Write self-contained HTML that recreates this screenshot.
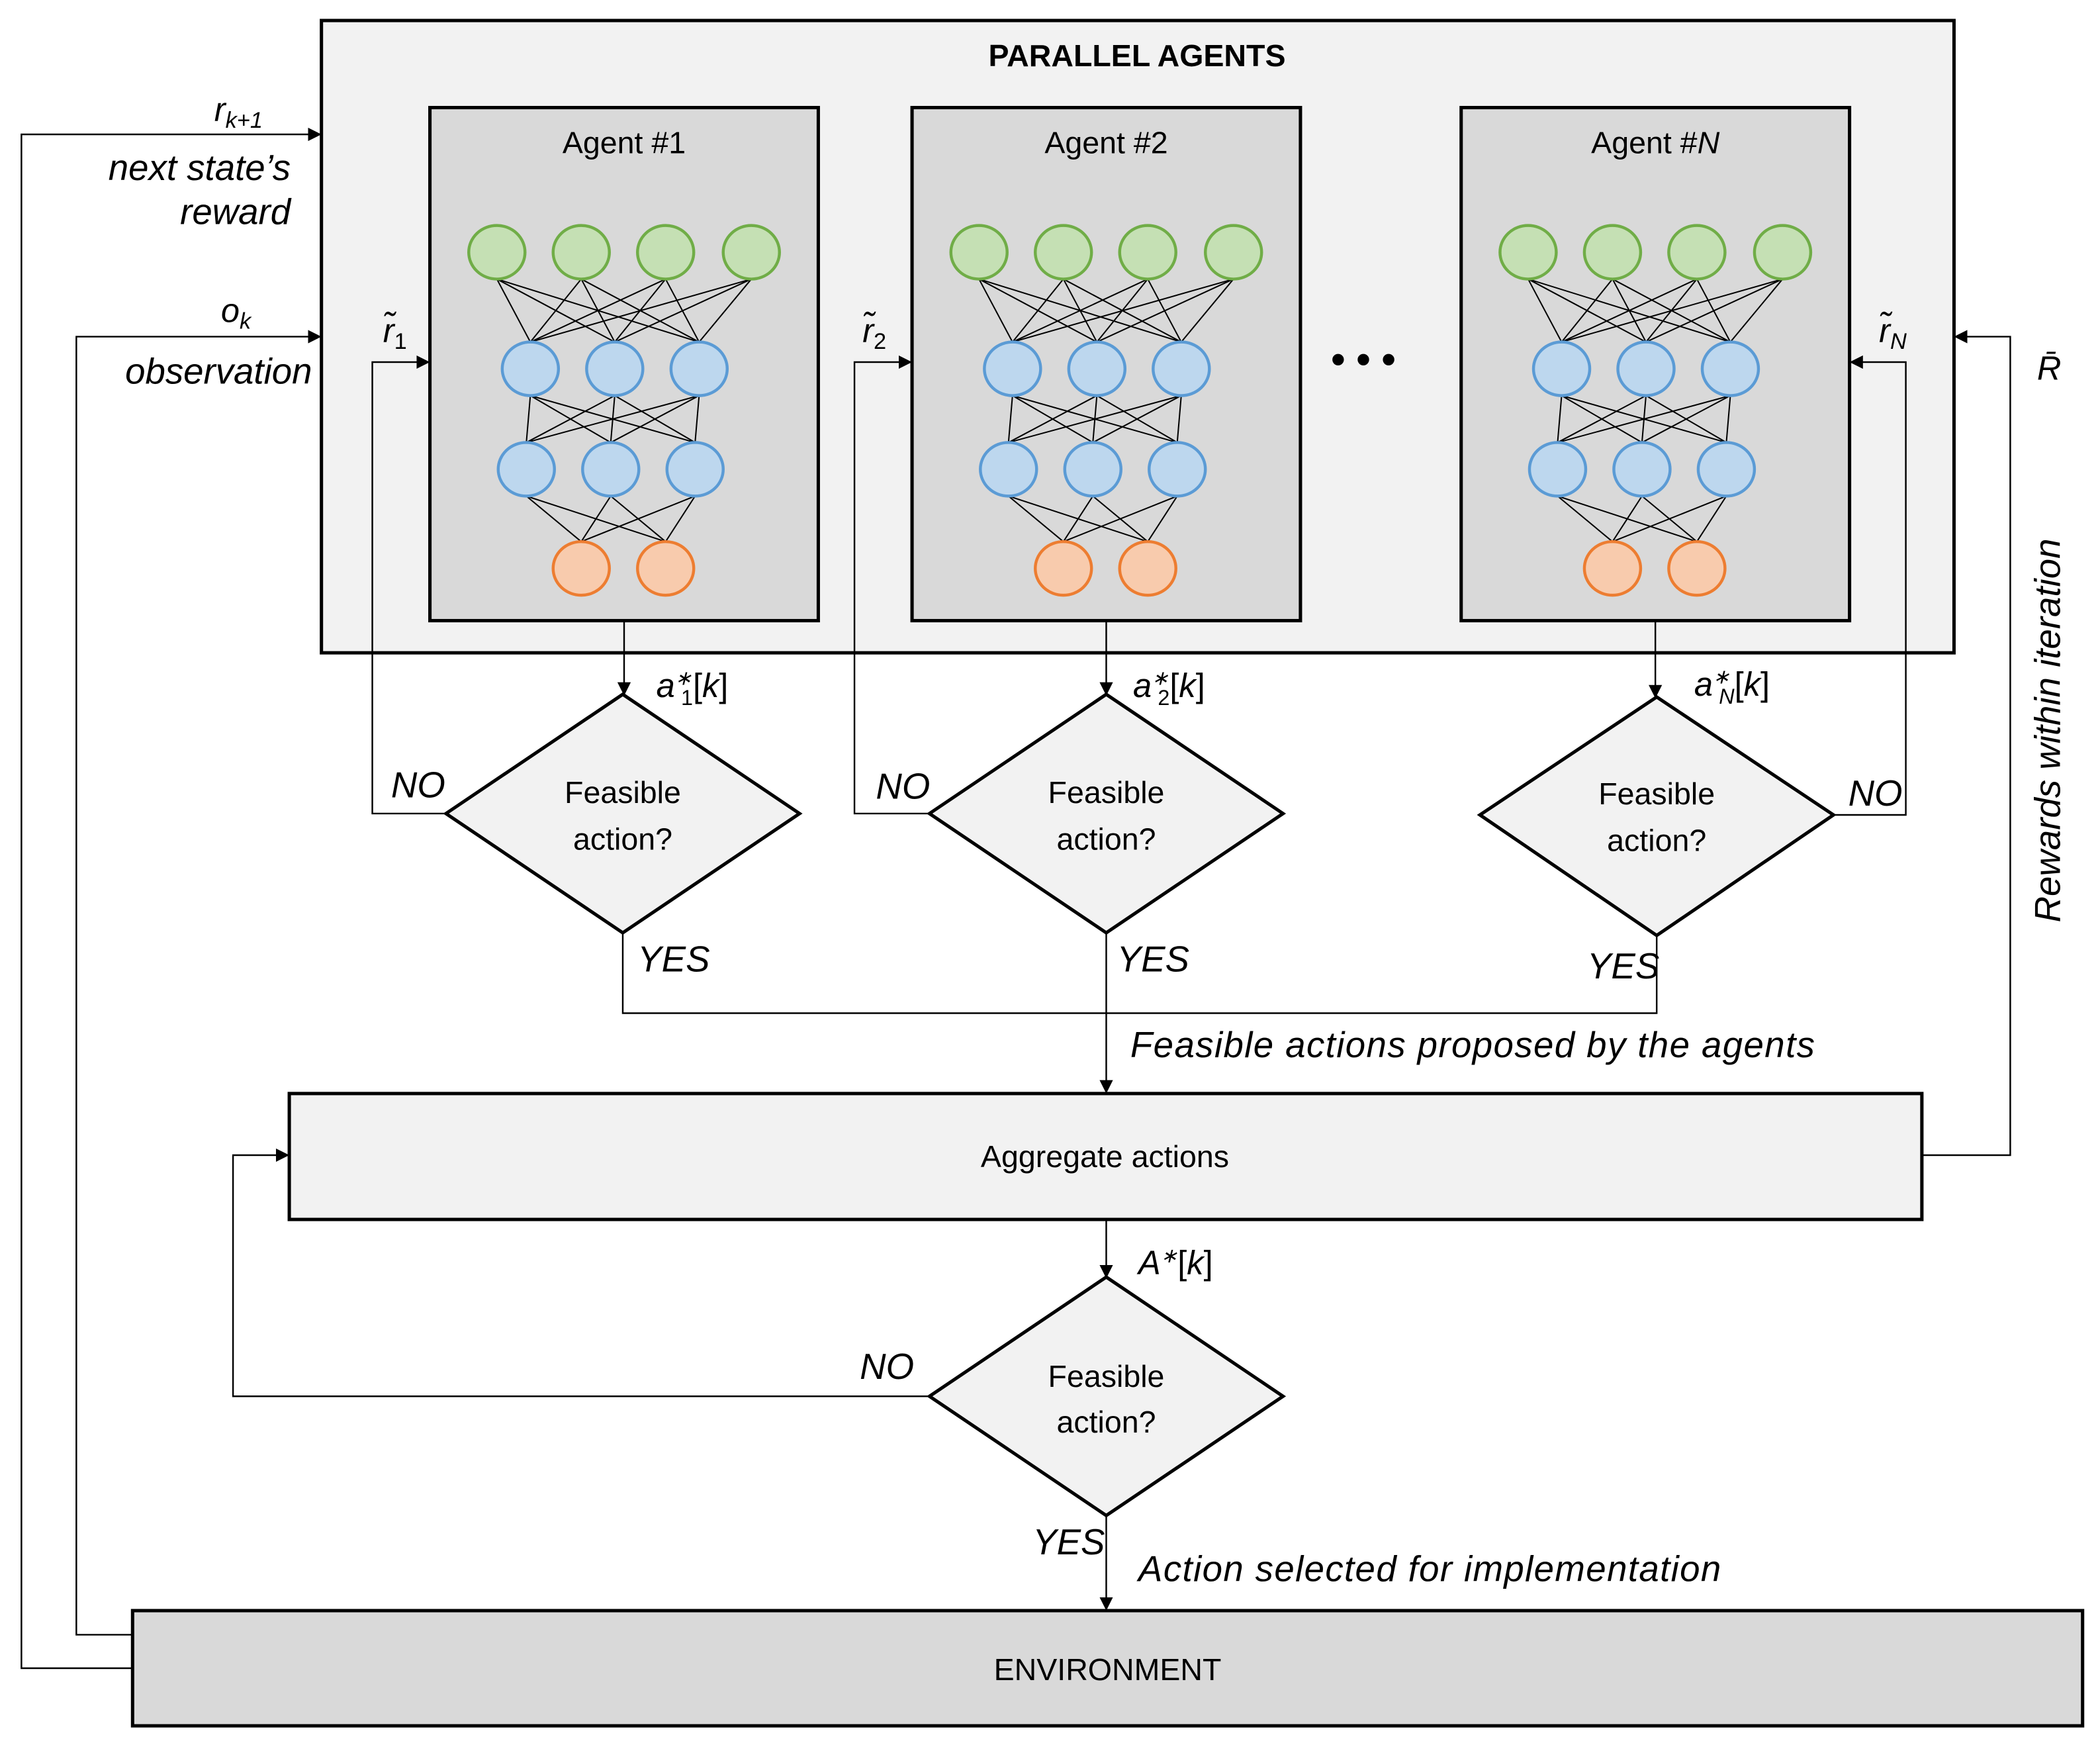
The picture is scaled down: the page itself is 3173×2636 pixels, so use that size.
<!DOCTYPE html>
<html><head><meta charset="utf-8"><style>
html,body{margin:0;padding:0;background:#fff;}
svg{display:block;}
text{font-family:"Liberation Sans",sans-serif;}
.it{font-style:italic;font-size:27px;}
.n{font-size:23px;}
</style></head><body>
<svg width="3173" height="2636" viewBox="0 0 1568 1302" xmlns="http://www.w3.org/2000/svg">
<defs>
<marker id="ar" markerWidth="10" markerHeight="10" refX="9" refY="5" orient="auto" markerUnits="userSpaceOnUse">
<path d="M0,0 L10,5 L0,10 z" fill="#000"/></marker>
<g id="net" stroke="#000" stroke-width="1">
<path d="M50,208L75,255M50,208L138,255M50,208L201,255M113,208L75,255M113,208L138,255M113,208L201,255M176,208L75,255M176,208L138,255M176,208L201,255M240,208L75,255M240,208L138,255M240,208L201,255
M75,295L72,330M75,295L135,330M75,295L198,330M138,295L72,330M138,295L135,330M138,295L198,330M201,295L72,330M201,295L135,330M201,295L198,330
M72,370L113,404M72,370L176,404M135,370L113,404M135,370L176,404M198,370L113,404M198,370L176,404" fill="none"/>
<g fill="#c5e0b4" stroke="#70ad47" stroke-width="2.2">
<ellipse cx="50" cy="188" rx="21" ry="20"/><ellipse cx="113" cy="188" rx="21" ry="20"/><ellipse cx="176" cy="188" rx="21" ry="20"/><ellipse cx="240" cy="188" rx="21" ry="20"/></g>
<g fill="#bdd7ee" stroke="#5b9bd5" stroke-width="2.2">
<ellipse cx="75" cy="275" rx="21" ry="20"/><ellipse cx="138" cy="275" rx="21" ry="20"/><ellipse cx="201" cy="275" rx="21" ry="20"/>
<ellipse cx="72" cy="350" rx="21" ry="20"/><ellipse cx="135" cy="350" rx="21" ry="20"/><ellipse cx="198" cy="350" rx="21" ry="20"/></g>
<g fill="#f8cbad" stroke="#ed7d31" stroke-width="2.2">
<ellipse cx="113" cy="424" rx="21" ry="20"/><ellipse cx="176" cy="424" rx="21" ry="20"/></g>
</g>
</defs>

<rect x="240" y="15" width="1219" height="472" fill="#f2f2f2" stroke="#000" stroke-width="2.5"/>
<text x="849" y="49" text-anchor="middle" font-weight="bold" font-size="23">PARALLEL AGENTS</text>

<g fill="#d9d9d9" stroke="#000" stroke-width="2.5">
<rect x="321" y="80" width="290" height="383"/>
<rect x="681" y="80" width="290" height="383"/>
<rect x="1091" y="80" width="290" height="383"/>
</g>
<text class="n" x="466" y="114" text-anchor="middle">Agent #1</text>
<text class="n" x="826" y="114" text-anchor="middle">Agent #2</text>
<text class="n" x="1236" y="114" text-anchor="middle">Agent #<tspan font-style="italic">N</tspan></text>
<use href="#net" x="321"/>
<use href="#net" x="681"/>
<use href="#net" x="1091"/>
<text x="1018" y="278" text-anchor="middle" font-size="30" font-weight="bold">• • •</text>

<g stroke="#000" stroke-width="1.2" fill="none">
<path d="M466,463V518" marker-end="url(#ar)"/>
<path d="M826,463V518" marker-end="url(#ar)"/>
<path d="M1236,463V520" marker-end="url(#ar)"/>
<path d="M333,607H278V270H320" marker-end="url(#ar)"/>
<path d="M694,607H638V270H680" marker-end="url(#ar)"/>
<path d="M1369,608H1423V270H1382" marker-end="url(#ar)"/>
<path d="M465,696V756H1237V698"/>
<path d="M826,696V815" marker-end="url(#ar)"/>
<path d="M1435,862H1501V251H1460" marker-end="url(#ar)"/>
<path d="M826,910V953" marker-end="url(#ar)"/>
<path d="M694,1042H174V862H215" marker-end="url(#ar)"/>
<path d="M826,1131V1201" marker-end="url(#ar)"/>
<path d="M99,1220H57V251H239" marker-end="url(#ar)"/>
<path d="M99,1245H16V100H239" marker-end="url(#ar)"/>
</g>

<g fill="#f2f2f2" stroke="#000" stroke-width="2.5">
<path d="M465,518L597,607L465,696L333,607z"/>
<path d="M826,518L958,607L826,696L694,607z"/>
<path d="M1237,520L1369,608L1237,698L1105,608z"/>
<path d="M826,953L958,1042L826,1131L694,1042z"/>
</g>
<g class="n" text-anchor="middle">
<text x="465" y="599">Feasible</text><text x="465" y="634">action?</text>
<text x="826" y="599">Feasible</text><text x="826" y="634">action?</text>
<text x="1237" y="600">Feasible</text><text x="1237" y="635">action?</text>
<text x="826" y="1035">Feasible</text><text x="826" y="1069">action?</text>
</g>

<rect x="216" y="816" width="1219" height="94" fill="#f2f2f2" stroke="#000" stroke-width="2.5"/>
<text class="n" x="825" y="871" text-anchor="middle">Aggregate actions</text>
<rect x="99" y="1202" width="1456" height="86" fill="#d9d9d9" stroke="#000" stroke-width="2.5"/>
<text class="n" x="827" y="1254" text-anchor="middle">ENVIRONMENT</text>

<g class="it" font-size="24">
<text x="292" y="595">NO</text>
<text x="654" y="596">NO</text>
<text x="1380" y="601">NO</text>
<text x="642" y="1029">NO</text>
<text x="476" y="725">YES</text>
<text x="834" y="725">YES</text>
<text x="1185" y="730">YES</text>
<text x="771" y="1160">YES</text>
</g>
<text class="it" x="844" y="789" textLength="511">Feasible actions proposed by the agents</text>
<text class="it" x="850" y="1180" textLength="435">Action selected for implementation</text>
<text class="it" x="217" y="134" text-anchor="end">next state’s</text>
<text class="it" x="217" y="167" text-anchor="end">reward</text>
<text class="it" x="233" y="286" text-anchor="end">observation</text>
<text class="it" transform="translate(1538,545) rotate(-90)" text-anchor="middle">Rewards within iteration</text>

<g style="font-family:'Liberation Serif',serif;font-style:italic;font-size:25px">
<text x="160" y="90">r<tspan font-size="17" dy="5">k+1</tspan></text>
<text x="165" y="240">o<tspan font-size="17" dy="5">k</tspan></text>
<text x="286" y="255">r̃<tspan font-size="17" dy="5" font-style="normal">1</tspan></text>
<text x="644" y="255">r̃<tspan font-size="17" dy="5" font-style="normal">2</tspan></text>
<text x="1403" y="255">r̃<tspan font-size="17" dy="5">N</tspan></text>
<text x="1521" y="283">R̄</text>
<text x="490" y="520">a<tspan font-size="15" dy="-9">∗</tspan><tspan font-size="16" dx="-8" dy="15" font-style="normal">1</tspan><tspan dy="-6" font-style="normal">[</tspan>k<tspan font-style="normal">]</tspan></text>
<text x="846" y="520">a<tspan font-size="15" dy="-9">∗</tspan><tspan font-size="16" dx="-8" dy="15" font-style="normal">2</tspan><tspan dy="-6" font-style="normal">[</tspan>k<tspan font-style="normal">]</tspan></text>
<text x="1265" y="519">a<tspan font-size="15" dy="-9">∗</tspan><tspan font-size="16" dx="-8" dy="15">N</tspan><tspan dy="-6" font-style="normal">[</tspan>k<tspan font-style="normal">]</tspan></text>
<text x="850" y="951">A<tspan font-size="15" dy="-9">∗</tspan><tspan dy="9" font-style="normal">[</tspan>k<tspan font-style="normal">]</tspan></text>
</g>
</svg>
</body></html>
